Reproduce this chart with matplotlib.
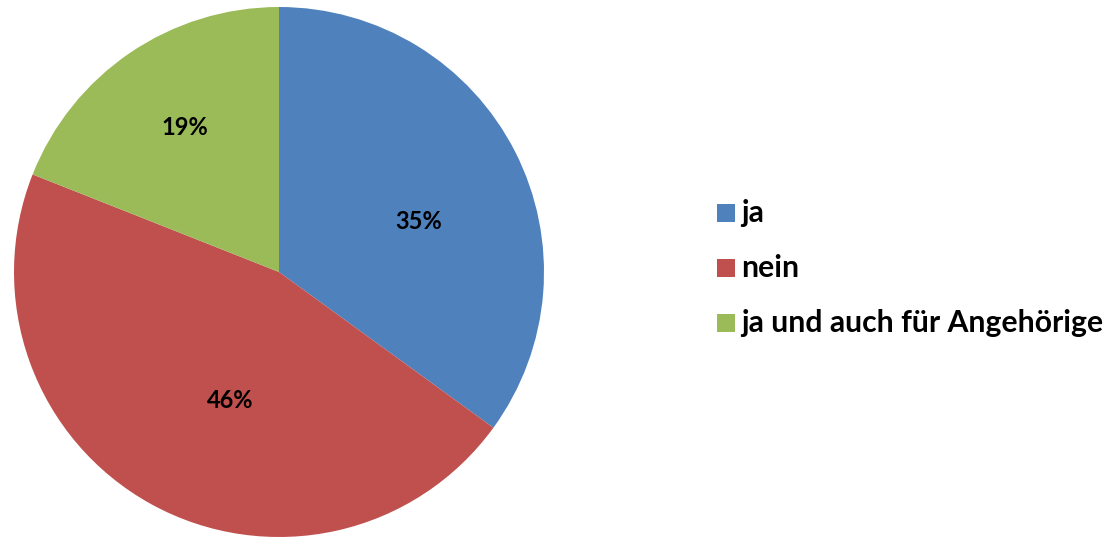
import matplotlib
matplotlib.use("Agg")
import matplotlib.pyplot as plt
from matplotlib.patches import Rectangle
import numpy as np

categories = ["ja", "nein", "ja und auch für Angehörige"]
values = [35, 46, 19]
colors = ["#4F81BD", "#C0504D", "#9BBB59"]
label_dist = [0.56, 0.52, 0.65]
label_angle_shift = [-7, 8, -1]  # degrees (counter-clockwise positive)

FONT = "Lato"
W, H, DPI = 1106, 537, 100
fig = plt.figure(figsize=(W / DPI, H / DPI), dpi=DPI)
fig.patch.set_facecolor("white")

cx, cy, R = 279, 272, 265
ax = fig.add_axes([(cx - R) / W, (H - cy - R) / H, 2 * R / W, 2 * R / H])
wedges, texts, autotexts = ax.pie(values, colors=colors, startangle=90, counterclock=False,
                                  autopct="%1.0f%%", pctdistance=0.55,
                                  wedgeprops=dict(linewidth=0),
                                  textprops=dict(fontsize=17, fontweight="bold",
                                                 family=FONT, color="black"))
for w, t, d, s in zip(wedges, autotexts, label_dist, label_angle_shift):
    ang = np.deg2rad((w.theta1 + w.theta2) / 2 + s)
    t.set_position((d * np.cos(ang), d * np.sin(ang)))
ax.set_xlim(-1, 1)
ax.set_ylim(-1, 1)
ax.set_aspect("equal")
ax.axis("off")

# legend
lx, sq = 717, 18
ys = [213, 268, 323]
for name, col, y in zip(categories, colors, ys):
    fig.patches.append(Rectangle(((lx) / W, (H - y - sq / 2) / H), sq / W, sq / H,
                                 transform=fig.transFigure, facecolor=col, edgecolor="none"))
    fig.text((lx + sq + 6) / W, (H - y) / H, name, fontsize=21.7, fontweight="bold",
             family=FONT, va="center", ha="left", color="black")

fig.savefig("out.png", dpi=DPI, facecolor="white")
